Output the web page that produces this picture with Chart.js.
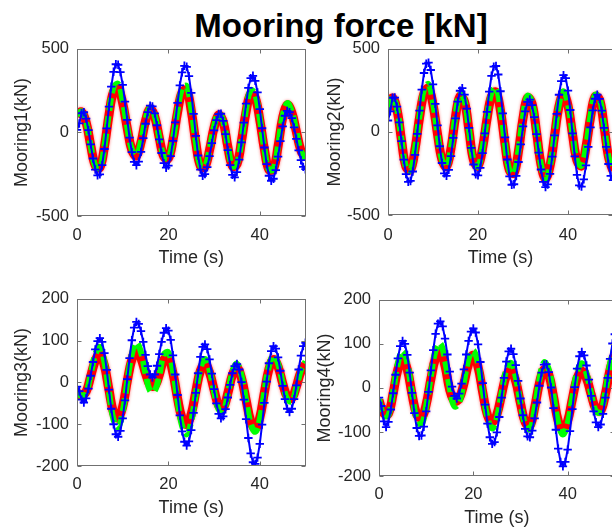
<!DOCTYPE html>
<html><head><meta charset="utf-8">
<script src="https://cdn.jsdelivr.net/npm/chart.js@4.4.1/dist/chart.umd.min.js"></script>
<style>
html,body{margin:0;padding:0;background:#fff;width:612px;height:531px;overflow:hidden;position:relative;}
#title{position:absolute;left:341px;top:9px;transform:translateX(-50%);font:bold 33px "Liberation Sans",Arial,Helvetica,sans-serif;line-height:33px;color:#000;white-space:nowrap;}
</style></head><body>
<div id="title">Mooring force [kN]</div>
<script>
// ---------- data ----------
const timeFine = [0,0.5,1,1.5,2,2.5,3,3.5,4,4.5,5,5.5,6,6.5,7,7.5,8,8.5,9,9.5,10,10.5,11,11.5,12,12.5,13,13.5,14,14.5,15,15.5,16,16.5,17,17.5,18,18.5,19,19.5,20,20.5,21,21.5,22,22.5,23,23.5,24,24.5,25,25.5,26,26.5,27,27.5,28,28.5,29,29.5,30,30.5,31,31.5,32,32.5,33,33.5,34,34.5,35,35.5,36,36.5,37,37.5,38,38.5,39,39.5,40,40.5,41,41.5,42,42.5,43,43.5,44,44.5,45,45.5,46,46.5,47,47.5,48,48.5,49,49.5,50];
const timeCoarse = [0,1,2,3,4,5,6,7,8,9,10,11,12,13,14,15,16,17,18,19,20,21,22,23,24,25,26,27,28,29,30,31,32,33,34,35,36,37,38,39,40,41,42,43,44,45,46,47,48,49,50];

const xTickValues = [0, 20, 40];
const yTicksTop = [-500, 0, 500];
const yTicksBottom = [-200, -100, 0, 100, 200];

const mooring1Blue = [16,54,115,121,83,14,-71,-156,-222,-257,-251,-196,-99,24,154,274,363,408,405,361,285,185,75,-31,-118,-176,-196,-175,-116,-34,52,122,160,156,114,43,-42,-123,-184,-211,-198,-142,-51,60,177,282,360,399,393,337,237,111,-21,-138,-222,-259,-249,-208,-142,-64,13,74,110,112,69,-10,-106,-195,-254,-269,-237,-163,-59,59,173,267,325,339,309,240,140,25,-90,-190,-259,-289,-277,-225,-145,-52,36,100,129,121,86,30,-38,-107,-166,-206,-220];
const mooring1Green = [105,125,62,-80,-202,-212,-82,119,271,290,190,31,-102,-137,-55,77,149,101,-29,-143,-154,-41,133,265,277,144,-56,-200,-205,-102,36,113,67,-82,-202,-188,-44,141,253,227,84,-98,-223,-220,-79,97,175,126,8,-111,-160];
const mooring1Red = [110,122,60,-78,-198,-210,-85,105,245,262,175,25,-105,-140,-60,70,140,95,-32,-145,-155,-45,120,240,252,130,-60,-200,-205,-105,30,105,62,-85,-200,-190,-50,125,230,208,75,-100,-222,-218,-82,88,165,120,5,-108,-155];

const mooring2Blue = [69,124,206,207,152,58,-55,-167,-254,-300,-295,-238,-138,-11,128,255,355,411,417,373,286,169,39,-86,-187,-249,-264,-228,-146,-36,82,183,248,264,225,140,24,-96,-196,-255,-261,-216,-128,-9,121,243,338,393,397,346,245,112,-33,-166,-267,-318,-315,-265,-181,-75,33,124,181,195,162,89,-13,-124,-226,-300,-332,-316,-252,-148,-21,109,224,306,342,324,249,132,-9,-147,-258,-322,-329,-285,-201,-90,27,130,200,225,199,128,25,-90,-193,-264,-290];
const mooring2Green = [130,208,140,-48,-213,-232,-104,97,257,288,178,-9,-169,-211,-97,98,227,190,10,-170,-208,-98,87,239,267,140,-70,-234,-251,-112,90,217,181,3,-198,-284,-206,-20,168,245,168,-12,-171,-203,-88,96,222,204,41,-151,-235];
const mooring2Red = [140,205,135,-50,-210,-228,-105,85,232,262,165,-12,-168,-208,-98,92,215,182,8,-170,-205,-100,78,215,240,128,-72,-232,-248,-115,82,205,172,0,-195,-280,-205,-25,155,228,160,-15,-172,-203,-90,88,212,196,38,-150,-235];

const mooring3Blue = [-10,-21,-41,-48,-38,-15,16,49,79,99,106,97,70,30,-17,-63,-100,-124,-130,-116,-86,-43,8,58,101,131,145,140,123,97,66,39,19,12,19,40,68,97,119,130,124,102,65,19,-30,-79,-117,-142,-151,-141,-114,-73,-25,22,61,85,91,80,55,21,-16,-50,-75,-86,-81,-64,-36,-6,22,39,44,31,1,-41,-88,-133,-170,-191,-195,-180,-147,-101,-49,2,46,75,87,81,60,28,-8,-40,-63,-71,-63,-40,-7,31,64,87,95];
const mooring3Green = [-20,-33,-24,20,67,85,49,-23,-89,-107,-70,1,68,95,72,21,-20,-20,17,67,72,28,-43,-104,-124,-93,-27,34,56,30,-22,-65,-69,-28,25,45,16,-43,-98,-118,-88,-23,39,65,45,-1,-40,-45,-12,30,50];
const mooring3Red = [-25,-30,-22,15,52,67,40,-18,-72,-85,-58,3,55,76,58,22,-6,-8,18,54,58,22,-38,-86,-100,-76,-22,28,44,24,-18,-55,-60,-26,18,35,10,-42,-92,-110,-84,-24,32,55,38,-2,-34,-38,-10,26,44];

const mooring4Blue = [-22,-41,-76,-89,-77,-49,-12,30,67,95,107,100,75,35,-11,-57,-91,-109,-108,-88,-53,-9,40,86,123,146,151,140,112,76,37,3,-18,-24,-13,10,42,76,107,128,135,126,99,59,11,-38,-81,-112,-127,-123,-101,-66,-22,23,60,83,89,77,52,16,-24,-62,-93,-110,-112,-97,-69,-33,5,35,53,54,36,1,-46,-95,-138,-168,-178,-168,-140,-98,-48,2,44,72,82,74,51,19,-18,-53,-78,-89,-83,-59,-22,23,66,101,122];
const mooring4Green = [-25,-63,-62,-8,56,84,56,-11,-71,-83,-42,27,85,101,63,0,-42,-33,14,66,85,56,-7,-67,-92,-68,-11,42,57,25,-34,-83,-94,-48,18,58,42,-17,-79,-106,-81,-22,36,56,33,-14,-53,-55,-9,56,94];
const mooring4Red = [-28,-58,-58,-12,42,64,42,-14,-60,-68,-38,20,68,82,50,-4,-30,-24,10,55,74,48,-10,-62,-78,-60,-15,28,40,15,-35,-78,-86,-45,10,42,30,-20,-75,-94,-75,-25,22,38,22,-15,-48,-52,-14,42,76];

// ---------- layout / style ----------
const FONT = '"Liberation Sans", Arial, Helvetica, sans-serif';
const TXT = '#262626';
const TICK_SIZE = 16.5, LABEL_SIZE = 18;

const panels = [
  {L:77,  T:45,  R:305.5, B:216, yTitleX:22,  xTickY:235, xTitleY:258, yLabel:'Mooring1(kN)', yMin:-500, yMax:500, yTicks:yTicksTop, blue:mooring1Blue, green:mooring1Green, red:mooring1Red},
  {L:388, T:45,  R:613,   B:215, yTitleX:335, xTickY:235, xTitleY:258, yLabel:'Mooring2(kN)', yMin:-500, yMax:500, yTicks:yTicksTop, blue:mooring2Blue, green:mooring2Green, red:mooring2Red},
  {L:77,  T:295, R:305.5, B:466, yTitleX:22,  xTickY:484, xTitleY:508, yLabel:'Mooring3(kN)', yMin:-200, yMax:200, yTicks:yTicksBottom, blue:mooring3Blue, green:mooring3Green, red:mooring3Red},
  {L:379, T:296, R:614.8, B:476, yTitleX:325, xTickY:494, xTitleY:518, yLabel:'Mooring4(kN)', yMin:-200, yMax:200, yTicks:yTicksBottom, blue:mooring4Blue, green:mooring4Green, red:mooring4Red}
];

const boxPlugin = {
  id: 'matlabBox',
  afterDatasetsDraw(chart) {
    const {ctx, chartArea: a, scales: {x, y}} = chart;
    ctx.save();
    ctx.strokeStyle = '#707070';
    ctx.lineWidth = 1;
    const l = Math.round(a.left) + 0.5, r = Math.round(a.right) - 0.5;
    const t = Math.round(a.top) + 0.5, b = Math.round(a.bottom) - 0.5;
    ctx.strokeRect(l, t, r - l, b - t);
    const tl = 4;
    ctx.beginPath();
    x.ticks.forEach(tk => {
      const px = Math.round(x.getPixelForValue(tk.value)) + 0.5;
      ctx.moveTo(px, b); ctx.lineTo(px, b - tl);
      ctx.moveTo(px, t); ctx.lineTo(px, t + tl);
    });
    y.ticks.forEach(tk => {
      const py = Math.round(y.getPixelForValue(tk.value)) + 0.5;
      ctx.moveTo(l, py); ctx.lineTo(l + tl, py);
      ctx.moveTo(r, py); ctx.lineTo(r - tl, py);
    });
    ctx.stroke();
    ctx.restore();
  }
};

const glowPlugin = {
  id: 'redGlow',
  beforeDatasetDraw(chart, args) {
    if (args.index === 2) {
      chart.ctx.save();
      chart.ctx.shadowColor = 'rgba(255,40,40,0.6)';
      chart.ctx.shadowBlur = 3;
    }
  },
  afterDatasetDraw(chart, args) {
    if (args.index === 2) chart.ctx.restore();
  }
};

function pts(times, vals) { return vals.map((v, i) => ({x: times[i], y: v})); }

function build(p) {
  const topPad = 14, rightPad = 14;
  const cl = Math.floor(p.yTitleX - 12);
  const ct = Math.floor(p.T - topPad);
  const bottomEdge = Math.ceil(p.xTitleY + 14);
  const W = Math.ceil(p.R + rightPad - cl);
  const H = bottomEdge - ct;
  const yw = p.L - cl;
  const xh = H - (p.B - ct);
  const tp = p.T - ct;
  const rp = W - (p.R - cl);
  const lh = LABEL_SIZE * 1.2 / 2;
  const yTitlePad = p.yTitleX - cl - lh;
  const xTitlePad = (ct + H) - lh - p.xTitleY;
  const xTickPad = p.xTickY - p.B - TICK_SIZE * 1.2 / 2;

  const canvas = document.createElement('canvas');
  canvas.width = W; canvas.height = H;
  canvas.style.cssText = `position:absolute;left:${cl}px;top:${ct}px;width:${W}px;height:${H}px`;
  document.body.appendChild(canvas);

  new Chart(canvas, {
    type: 'line',
    data: {
      datasets: [
        {data: pts(timeFine, p.blue), borderColor:'#0000ff', borderWidth:2, tension:0,
         pointStyle:'cross', pointRadius:4.2, pointBorderColor:'#0000ff', pointBorderWidth:1.8, clip:0},
        {data: pts(timeCoarse, p.green), borderColor:'#00ff00', borderWidth:6, borderDash:[13,5],
         tension:0.4, pointRadius:0, clip:0},
        {data: pts(timeCoarse, p.red), borderColor:'#ff0000', borderWidth:9, tension:0.4,
         pointRadius:0, clip:0}
      ]
    },
    options: {
      responsive:false, animation:false, devicePixelRatio:1,
      layout:{padding:{left:0, top:tp, right:rp, bottom:0}},
      plugins:{legend:{display:false}, tooltip:{enabled:false}},
      scales:{
        x:{type:'linear', min:0, max:50,
           border:{display:false}, grid:{display:false, drawTicks:false},
           afterBuildTicks: s => { s.ticks = xTickValues.map(v => ({value:v})); },
           afterFit: s => { s.height = xh; },
           ticks:{color:TXT, font:{family:FONT, size:TICK_SIZE}, padding:xTickPad, maxRotation:0, autoSkip:false},
           title:{display:true, text:'Time (s)', color:TXT, font:{family:FONT, size:LABEL_SIZE}, padding:{top:0, bottom:xTitlePad}}},
        y:{type:'linear', min:p.yMin, max:p.yMax,
           border:{display:false}, grid:{display:false, drawTicks:false},
           afterBuildTicks: s => { s.ticks = p.yTicks.map(v => ({value:v})); },
           afterFit: s => { s.width = yw; },
           ticks:{color:TXT, font:{family:FONT, size:TICK_SIZE}, padding:8, autoSkip:false},
           title:{display:true, text:p.yLabel, color:TXT, font:{family:FONT, size:LABEL_SIZE}, padding:{top:yTitlePad, bottom:0}}}
      }
    },
    plugins:[glowPlugin, boxPlugin]
  });
}

panels.forEach(build);
</script>
</body></html>
